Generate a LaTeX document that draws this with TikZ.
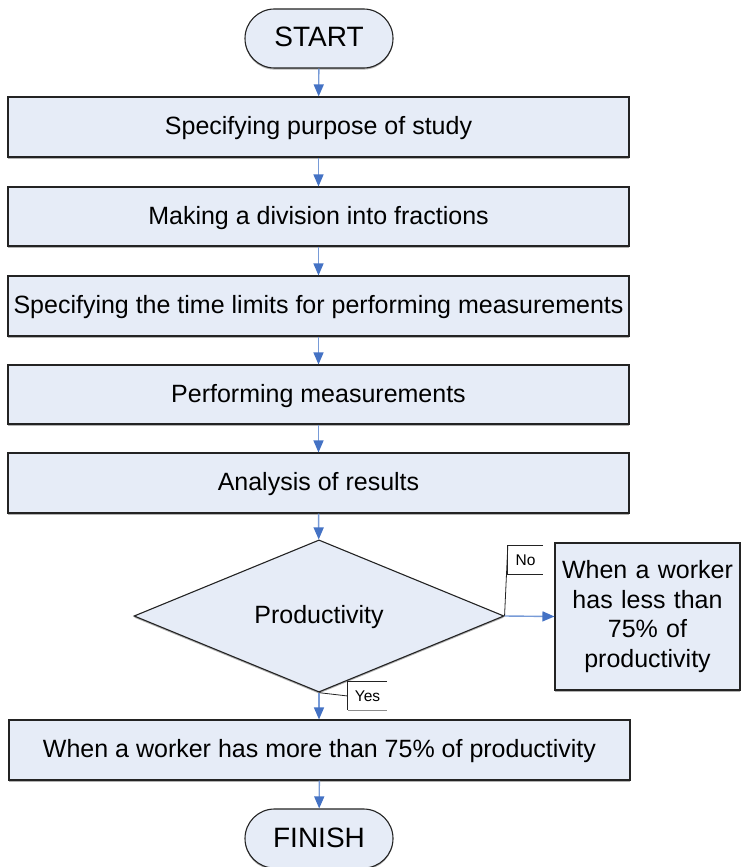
\documentclass[tikz,border=0pt]{standalone}
\usepackage{fontspec}
\setmainfont{Liberation Sans}
\usetikzlibrary{shapes.geometric,shapes.misc,arrows.meta,shadows}
\definecolor{boxfill}{RGB}{230,236,247}
\definecolor{boxline}{RGB}{35,35,35}
\definecolor{arrline}{RGB}{120,155,215}
\definecolor{arrhead}{RGB}{68,114,196}
\tikzset{
  base/.style={draw=boxline, line width=1.1pt, fill=boxfill, inner sep=0pt,
    font=\fontsize{25}{29.5}\selectfont, align=center,
    drop shadow={shadow xshift=0pt, shadow yshift=-1.6pt, fill=black!30, opacity=1}},
  stepbox/.style={base, rectangle, minimum width=621pt, text height=19pt, text depth=4pt},
  term/.style={base, rounded rectangle, minimum width=148pt, minimum height=59pt, font=\fontsize{28}{32}\selectfont, text height=20pt, text depth=3pt},
  decbox/.style={base, diamond, minimum width=370pt, minimum height=90pt, text height=19pt, text depth=4pt},
  flow/.style={draw=arrline, line width=1.4pt, -{Triangle[length=12pt,width=10pt,color=arrhead]}},
  lbl/.style={inner sep=0pt, font=\fontsize{15.5}{18}\selectfont},
  lead/.style={draw=boxline, line width=0.8pt},
}
\begin{document}
\begin{tikzpicture}[x=1pt,y=-1pt]
\useasboundingbox (0,0) rectangle (741,867);
\node[term] (start) at (319,38.5) {START};
\node[stepbox, minimum height=60pt] (b1) at (318.5,127) {Specifying purpose of study};
\node[stepbox, minimum height=59pt] (b2) at (318.5,216.5) {Making a division into fractions};
\node[stepbox, minimum height=60pt] (b3) at (318.5,306) {Specifying the time limits for performing measurements};
\node[stepbox, minimum height=59pt] (b4) at (318.5,394.5) {Performing measurements};
\node[stepbox, minimum height=60pt] (b5) at (318.5,483) {Analysis of results};
\node[decbox] (dec) at (319,616) {Productivity};
\node[base, rectangle, minimum width=185pt, minimum height=147pt, text width=180pt] (side) at (647.5,616.5) {When a worker\\has less than\\75\% of\\productivity};
\node[stepbox, minimum height=60pt] (b6) at (319.5,750) {When a worker has more than 75\% of productivity};
\node[term] (finish) at (319,838.5) {FINISH};
% callout labels
\node[lbl, minimum width=35pt, minimum height=28pt] (nolbl) at (525.5,560) {No};
\node[lbl, minimum width=39pt, minimum height=28pt] (yeslbl) at (367.5,696) {Yes};
\draw[lead] (nolbl.north east) -- (nolbl.north west) -- (nolbl.south west) -- (nolbl.south east);
\draw[lead] (yeslbl.north east) -- (yeslbl.north west) -- (yeslbl.south west);
\draw[draw=black!45, line width=1.2pt] (yeslbl.south west) -- (yeslbl.south east);
\draw[lead] (dec.east) -- (nolbl.north west);
\draw[lead] (dec.south) -- (yeslbl.west);
% flow
\draw[flow] (start) -- (b1);
\draw[flow] (b1) -- (b2);
\draw[flow] (b2) -- (b3);
\draw[flow] (b3) -- (b4);
\draw[flow] (b4) -- (b5);
\draw[flow] (b5) -- (dec);
\draw[flow] (dec.east) -- (side.west);
\draw[flow] (dec.south) -- (b6.north -| dec.south);
\draw[flow] (b6) -- (finish);
\end{tikzpicture}
\end{document}
